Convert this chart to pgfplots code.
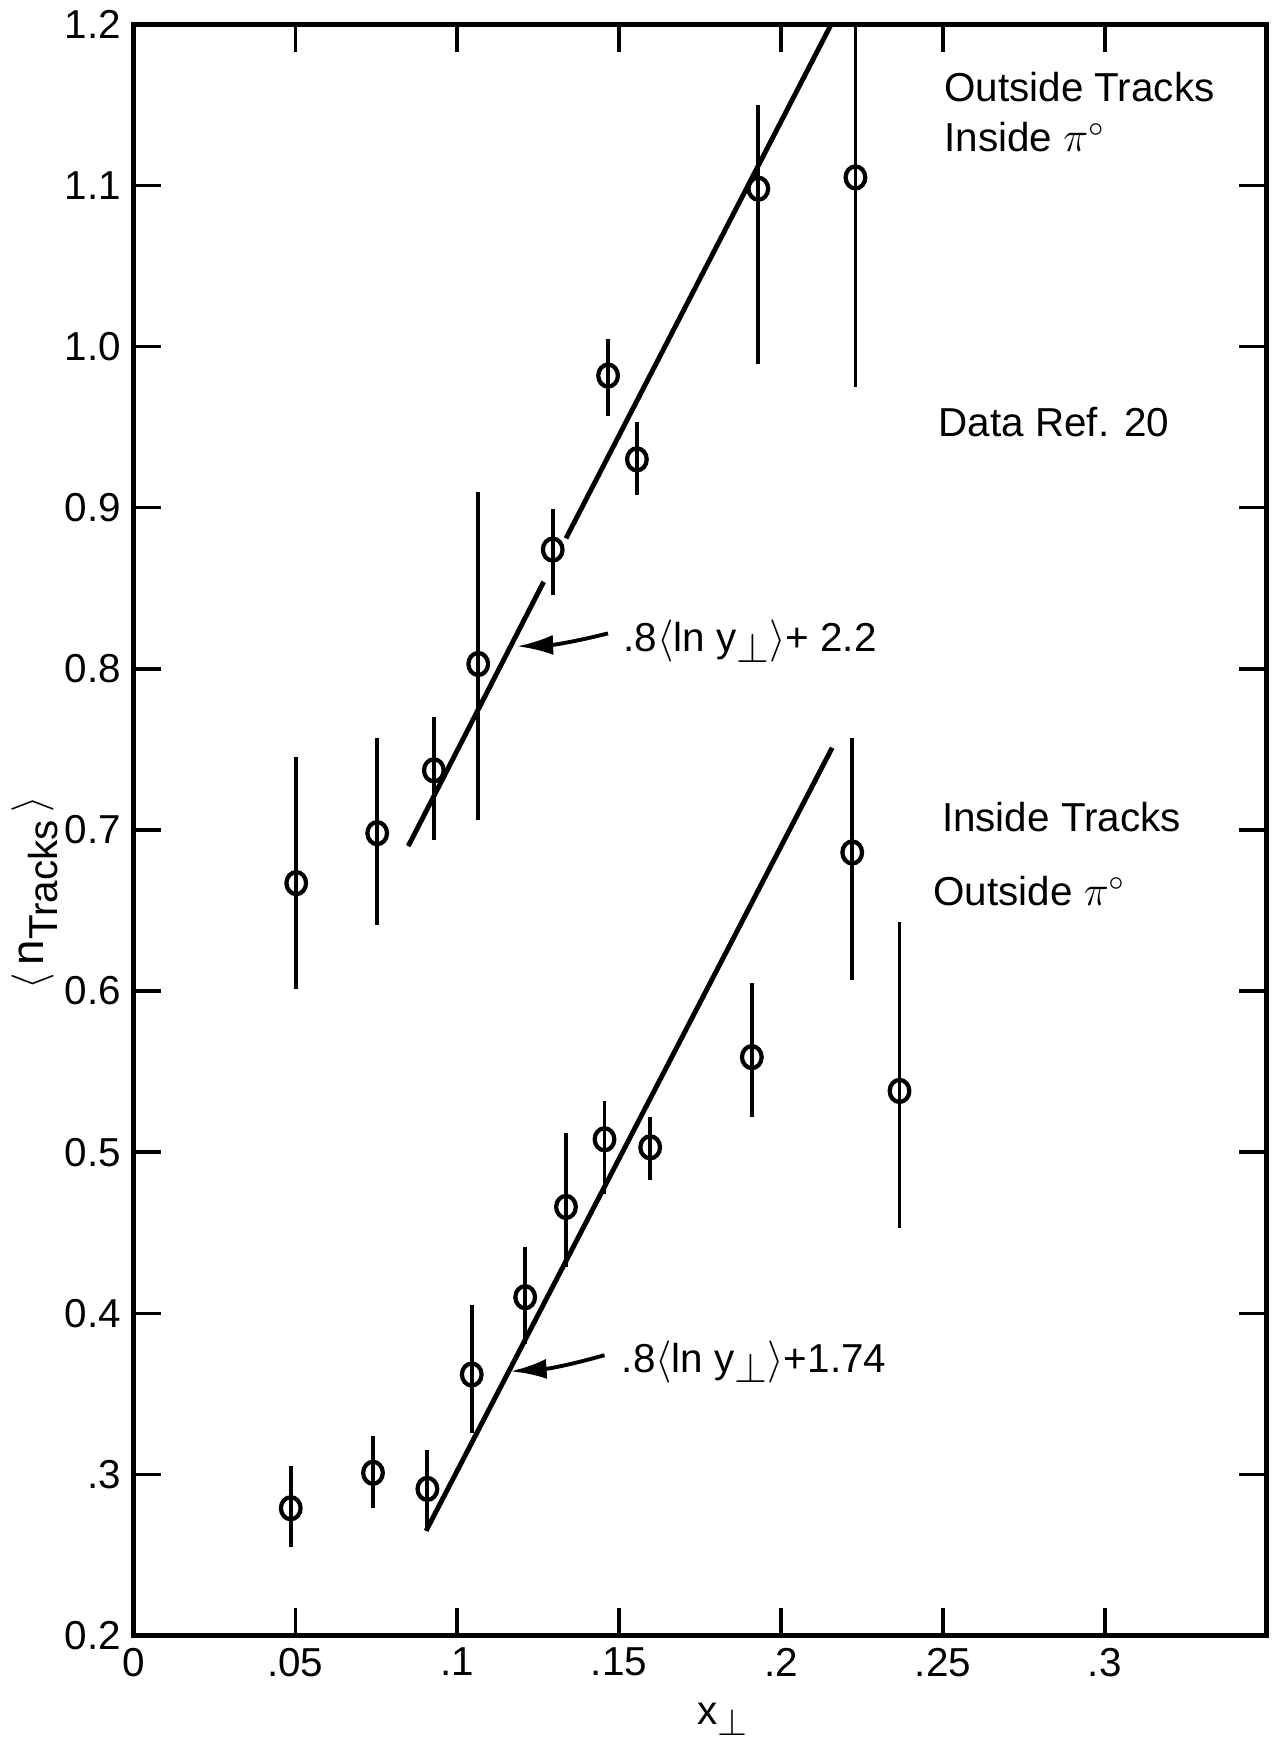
\documentclass[border=0pt]{standalone}
\usepackage{fontspec}
\setmainfont{Liberation Sans}
\usepackage{pgfplots}
\pgfplotsset{compat=1.18}
\usepackage{pgfplotstable}
\usetikzlibrary{arrows.meta}

\newcommand\lbl{\fontsize{11.5}{13}\selectfont}

% outside tracks, inside pi0
\pgfplotstableread{
x      y     ep    em
0.0503 0.667 0.078 0.066
0.0753 0.698 0.059 0.057
0.0928 0.737 0.033 0.043
0.1065 0.803 0.107 0.097
0.1295 0.874 0.025 0.028
0.1466 0.982 0.023 0.025
0.1555 0.930 0.023 0.022
0.1930 1.098 0.052 0.109
0.2230 1.105 0.095 0.130
}\outside

% inside tracks, outside pi0
\pgfplotstableread{
x      y     ep    em
0.0486 0.279 0.026 0.024
0.0740 0.301 0.023 0.022
0.0908 0.291 0.024 0.026
0.1045 0.362 0.043 0.036
0.1210 0.410 0.031 0.029
0.1336 0.466 0.046 0.037
0.1455 0.508 0.024 0.034
0.1596 0.503 0.019 0.020
0.1910 0.559 0.046 0.037
0.2220 0.686 0.071 0.079
0.2366 0.538 0.105 0.085
}\inside

\begin{document}
\begin{tikzpicture}
\begin{axis}[
  scale only axis,
  width=11.335cm, height=16.114cm,
  xmin=0, xmax=0.35, ymin=0.2, ymax=1.2,
  xtick={0,0.05,0.1,0.15,0.2,0.25,0.3},
  xticklabels={0,.05,.1,.15,.2,.25,.3},
  ytick={0.2,0.3,0.4,0.5,0.6,0.7,0.8,0.9,1.0,1.1,1.2},
  yticklabels={0.2,.3,0.4,0.5,0.6,0.7,0.8,0.9,1.0,1.1,1.2},
  tick align=inside,
  major tick length=2.8mm,
  tick style={line width=1pt, black},
  axis line style={line width=1.4pt},
  tick label style={font=\lbl},
  xlabel={x\raisebox{-0.55ex}{\fontsize{10.5}{12}\selectfont$\perp$}},
  ylabel={$\big\langle$\,n\raisebox{-0.6ex}{\fontsize{11.5}{13}\selectfont Tracks}\,$\big\rangle$},
  every axis x label/.style={at={(axis description cs:0.52,-0.052)}, anchor=center, font=\lbl},
  every axis y label/.style={at={(axis description cs:-0.087,0.461)}, anchor=center, rotate=90, font=\fontsize{13}{15}\selectfont},
]
\addplot[only marks, mark=o, mark size=2.8pt,
  mark options={fill=white, line width=1.2pt, yscale=1.12},
  error bars/.cd, y dir=both, y explicit, error mark=none,
  error bar style={line width=1.1pt}]
  table[x=x, y=y, y error plus=ep, y error minus=em] {\outside};
\addplot[only marks, mark=o, mark size=2.8pt,
  mark options={fill=white, line width=1.2pt, yscale=1.12},
  error bars/.cd, y dir=both, y explicit, error mark=none,
  error bar style={line width=1.1pt}]
  table[x=x, y=y, y error plus=ep, y error minus=em] {\inside};

% fit lines
\addplot[line width=1.4pt, no marks] coordinates {(0.0849,0.690) (0.1267,0.854)};
\addplot[line width=1.4pt, no marks] coordinates {(0.1336,0.881) (0.2155,1.2)};
\addplot[line width=1.4pt, no marks] coordinates {(0.0904,0.265) (0.2158,0.751)};

\draw[line width=1.1pt, -{Latex[length=3.6mm,width=2mm]}]
  (axis cs:0.1466,0.822) to[bend left=6] (axis cs:0.1185,0.814);
\node[anchor=west, font=\lbl] at (axis cs:0.1475,0.817)
  {.8$\langle$ln y\raisebox{-0.5ex}{$\perp$}$\rangle$+ 2.2};
\draw[line width=1.1pt, -{Latex[length=3.6mm,width=2mm]}]
  (axis cs:0.1455,0.374) to[bend left=6] (axis cs:0.1165,0.364);
\node[anchor=west, font=\lbl] at (axis cs:0.1470,0.370)
  {.8$\langle$ln y\raisebox{-0.5ex}{$\perp$}$\rangle$+1.74};

\node[anchor=west, font=\lbl] at (axis cs:0.2466,1.161) {Outside Tracks};
\node[anchor=west, font=\lbl] at (axis cs:0.2466,1.130) {Inside $\pi^\circ$};
\node[anchor=west, font=\lbl] at (axis cs:0.2449,0.953) {Data Ref. 20};
\node[anchor=west, font=\lbl] at (axis cs:0.2459,0.708) {Inside Tracks};
\node[anchor=west, font=\lbl] at (axis cs:0.2432,0.662) {Outside $\pi^\circ$};
\end{axis}
\pgfresetboundingbox
\path ([xshift=-1.334cm,yshift=-1.075cm]current axis.south west)
  rectangle ([xshift=0.113cm,yshift=0.244cm]current axis.north east);
\end{tikzpicture}
\end{document}
